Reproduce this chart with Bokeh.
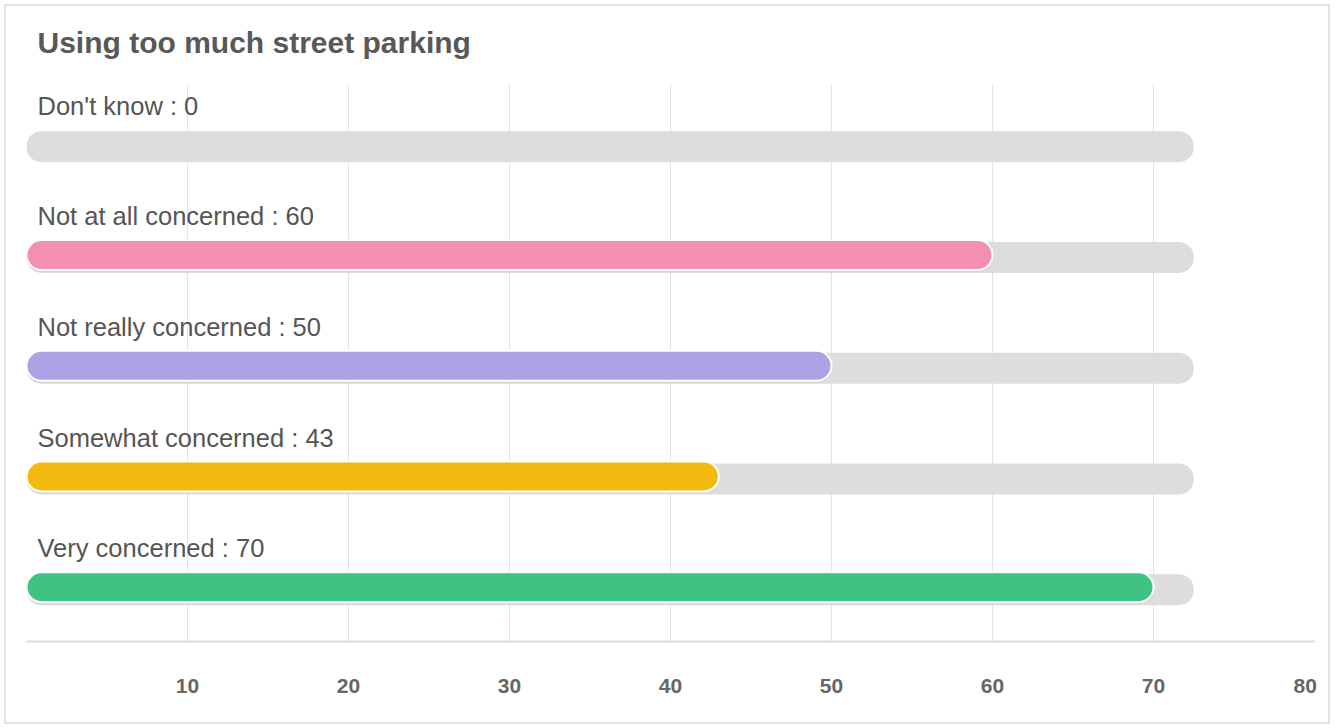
from bokeh.plotting import figure
from bokeh.models import FixedTicker, ColumnDataSource, Range1d, Title
from bokeh.core.properties import value
from bokeh.embed import file_html
from bokeh.resources import INLINE

title_text = "Using too much street parking"
categories = ["Don't know", "Not at all concerned", "Not really concerned",
              "Somewhat concerned", "Very concerned"]
values = [0, 60, 50, 43, 70]
colors = ["#dddddd", "#f48fb1", "#aca3e6", "#f3b90f", "#3ec383"]
track_max = 72.5
tick_values = [10, 20, 30, 40, 50, 60, 70, 80]

n = len(categories)
ypos = [n - 1 - i for i in range(n)]
labels = [f"{c} : {v}" for c, v in zip(categories, values)]
y_lo, y_hi = -0.49, 4.54

p = figure(width=1326, height=720, x_range=Range1d(0, 80),
           y_range=Range1d(y_lo, y_hi), output_backend="svg",
           toolbar_location=None, y_axis_location=None,
           min_border_left=20, min_border_right=18,
           min_border_top=78, min_border_bottom=85,
           styles={"border": "2px solid #e2e2e2", "position": "relative",
                   "left": "4px", "top": "4px"})
p.outline_line_color = None

p.title.text = title_text
p.title.text_font = "Liberation Sans"
p.title.text_font_size = "30px"
p.title.text_font_style = "bold"
p.title.text_color = "#585858"
p.title.align = "left"
p.title.offset = 11
p.title.standoff = 10

# empty spacer between the title and the plot area
p.add_layout(Title(text="\u00a0", text_font_size="1px", standoff=18), "above")

# grid
p.ygrid.visible = False
p.xgrid.ticker = FixedTicker(ticks=[0] + tick_values)
p.xgrid.grid_line_color = "#e3e3e3"
p.xgrid.grid_line_width = 1

ax = p.xaxis[0]
ax.ticker = FixedTicker(ticks=tick_values)
ax.axis_line_color = "#dcdcdc"
ax.axis_line_width = 2
ax.major_tick_line_color = None
ax.minor_tick_line_color = None
ax.major_label_text_font = "Liberation Sans"
ax.major_label_text_font_size = "21px"
ax.major_label_text_font_style = "bold"
ax.major_label_text_color = "#666666"
ax.major_label_standoff = 26
# last tick label is kept inside the chart (ends at its tick line)
last_tick = tick_values[-1]
ax.major_label_overrides = {last_tick: str(last_tick) + "\u00a0" * 2}

# tracks
track_src = ColumnDataSource(dict(y=[y - 0.022 for y in ypos],
                                  right=[track_max] * n))
p.hbar(y="y", left=0, right="right", height=0.28, source=track_src,
       fill_color="#dddddd", line_color=None, border_radius=15)

# value bars (with a soft shadow)
vb = [(y, v, c) for y, v, c in zip(ypos, values, colors) if v > 0]
bar_src = ColumnDataSource(dict(y=[a[0] for a in vb], right=[a[1] for a in vb],
                                color=[a[2] for a in vb],
                                ys=[a[0] - 0.02 for a in vb]))
p.hbar(y="ys", left=0, right="right", height=0.27, source=bar_src,
       fill_color="#cfcfcf", fill_alpha=0.6, line_color=None, border_radius=15)
p.hbar(y="y", left=0, right="right", height=0.27, source=bar_src,
       fill_color="color", line_color="white", line_width=2, border_radius=15)

# labels
lab_src = ColumnDataSource(dict(x=[0] * n, y=[y + 0.35 for y in ypos], text=labels))
p.text(x="x", y="y", text="text", source=lab_src, x_offset=11,
       text_baseline="middle", text_font=value("Liberation Sans"),
       text_font_size="25.5px", text_color="#555555")

open("out.html", "w").write(file_html(p, INLINE))
